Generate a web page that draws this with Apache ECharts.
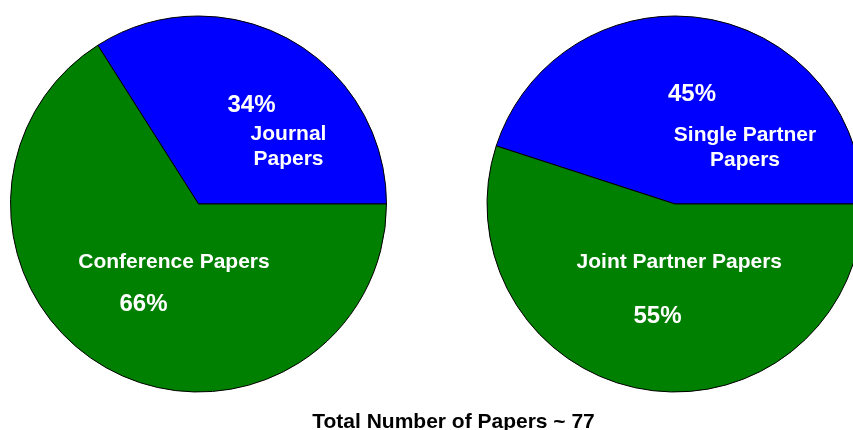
<!DOCTYPE html>
<html>
<head>
<meta charset="utf-8">
<script src="https://cdn.jsdelivr.net/npm/echarts@6/dist/echarts.min.js"></script>
<style>
  html, body { margin: 0; padding: 0; background: #ffffff; }
  #chart { width: 853px; height: 430px; }
</style>
</head>
<body>
<div id="chart"></div>
<script>
// Paper type split (percent of all papers)
const typeNames = ['Journal\nPapers', 'Conference Papers'];
const typeValues = [34, 66];

// Partner split (percent of all papers)
const partnerNames = ['Single Partner\nPapers', 'Joint Partner Papers'];
const partnerValues = [45, 55];

const totalPapers = 77;
const sliceColors = ['#0000ff', '#008000'];

const FONT = '"Liberation Sans", Arial, sans-serif';
const R = 188;
const leftCenter = [198.5, 204];
const rightCenter = [675, 204];

// label placement inside each pie, relative to its centre: [name, percent] per slice
const leftLabelOffsets = [
  { name: [90, -57], pct: [53, -99] },
  { name: [-24.5, 58], pct: [-55, 100] }
];
const rightLabelOffsets = [
  { name: [70, -56.5], pct: [17, -110] },
  { name: [4.3, 58.5], pct: [-17.5, 112] }
];

function pieSeries(names, values, center) {
  return {
    type: 'pie',
    center: center,
    radius: [0, R],
    startAngle: 0,
    clockwise: false,
    silent: true,
    animation: false,
    z: 1,
    label: { show: false },
    labelLine: { show: false },
    itemStyle: { borderColor: '#000000', borderWidth: 1 },
    data: names.map((n, i) => ({
      name: n,
      value: values[i],
      itemStyle: { color: sliceColors[i] }
    }))
  };
}

function sliceLabels(names, values, center, offsets) {
  const total = values.reduce((a, b) => a + b, 0);
  const out = [];
  names.forEach((n, i) => {
    const pct = Math.round(values[i] / total * 100) + '%';
    out.push({
      type: 'text',
      x: center[0] + offsets[i].pct[0],
      y: center[1] + offsets[i].pct[1],
      z: 100,
      silent: true,
      style: {
        text: pct,
        fill: '#ffffff',
        font: 'bold 24px ' + FONT,
        align: 'center',
        verticalAlign: 'middle'
      }
    });
    out.push({
      type: 'text',
      x: center[0] + offsets[i].name[0],
      y: center[1] + offsets[i].name[1],
      z: 100,
      silent: true,
      style: {
        text: n,
        fill: '#ffffff',
        font: 'bold 21px ' + FONT,
        lineHeight: 25,
        align: 'center',
        verticalAlign: 'middle'
      }
    });
  });
  return out;
}

const chart = echarts.init(document.getElementById('chart'), null, { renderer: 'canvas' });
chart.setOption({
  backgroundColor: '#ffffff',
  animation: false,
  series: [
    pieSeries(typeNames, typeValues, leftCenter),
    pieSeries(partnerNames, partnerValues, rightCenter)
  ],
  graphic: [
    ...sliceLabels(typeNames, typeValues, leftCenter, leftLabelOffsets),
    ...sliceLabels(partnerNames, partnerValues, rightCenter, rightLabelOffsets),
    {
      type: 'text',
      x: 453.5,
      y: 422,
      z: 100,
      silent: true,
      style: {
        text: 'Total Number of Papers ~ ' + totalPapers,
        fill: '#000000',
        font: 'bold 21px ' + FONT,
        align: 'center',
        verticalAlign: 'middle'
      }
    }
  ]
});
</script>
</body>
</html>
